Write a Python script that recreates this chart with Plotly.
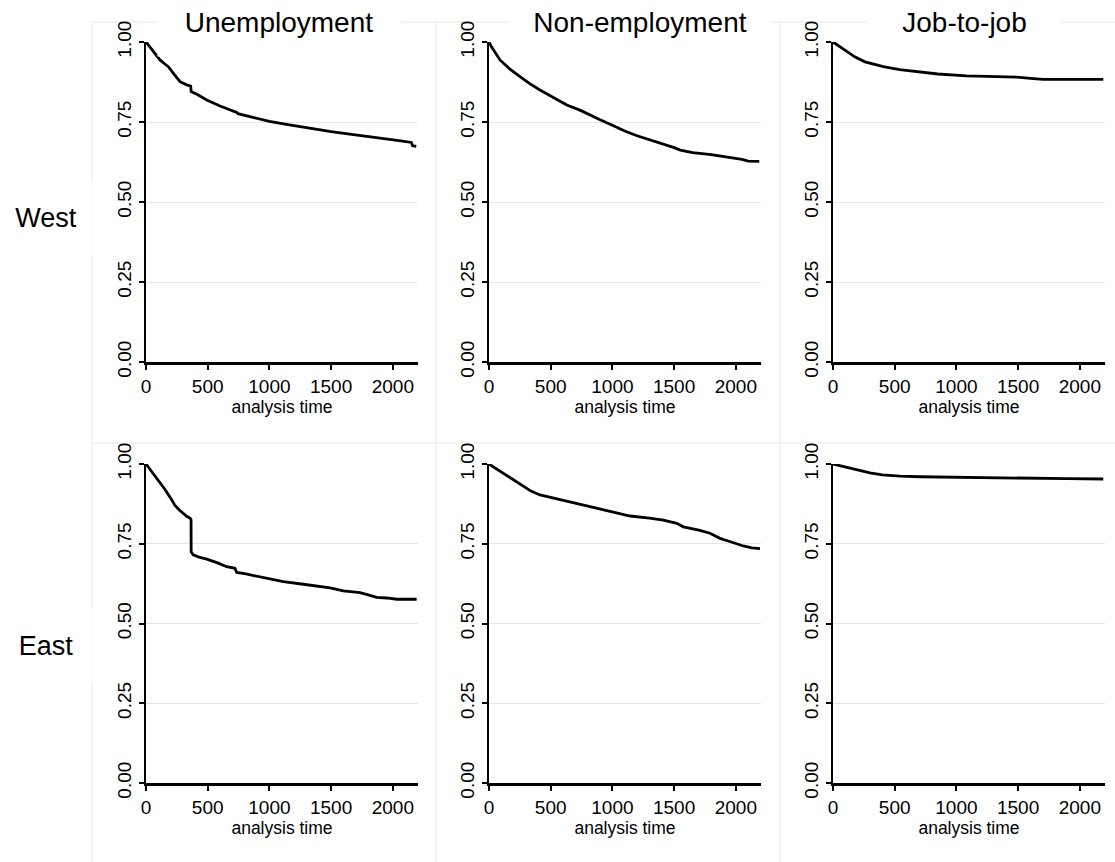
import plotly.graph_objects as go

# ---------------- data ----------------
col_titles = ["Unemployment", "Non-employment", "Job-to-job"]
row_titles = ["West", "East"]
x_ticks = [0, 500, 1000, 1500, 2000]
y_ticks = [0, 0.25, 0.5, 0.75, 1.0]
y_tick_text = ["0.00", "0.25", "0.50", "0.75", "1.00"]
x_title = "analysis time"

uw_t = [0, 30, 60, 113, 150, 181, 230, 276, 330, 362, 366, 420, 492, 600, 735, 745, 850, 1000,
        1150, 1300, 1400, 1500, 1650, 1800, 1950, 2050, 2150, 2160, 2190]
uw_s = [1.0, 0.985, 0.97, 0.944, 0.932, 0.923, 0.898, 0.876, 0.866, 0.8625, 0.845, 0.835, 0.819,
        0.80, 0.78, 0.776, 0.766, 0.752, 0.742, 0.732, 0.725, 0.72, 0.712, 0.705, 0.698, 0.692,
        0.686, 0.676, 0.674]

nw_t = [0, 20, 89, 170, 251, 330, 413, 520, 630, 737, 800, 900, 1000, 1100, 1200, 1300, 1400,
        1500, 1550, 1650, 1800, 1950, 2050, 2100, 2190]
nw_s = [1.0, 0.985, 0.944, 0.915, 0.892, 0.87, 0.85, 0.826, 0.803, 0.787, 0.775, 0.757, 0.74,
        0.722, 0.707, 0.695, 0.683, 0.67, 0.662, 0.654, 0.648, 0.64, 0.633, 0.628, 0.627]

jw_t = [0, 40, 111, 180, 259, 330, 408, 540, 678, 850, 1083, 1300, 1489, 1600, 1702, 1900, 2190]
jw_s = [1.0, 0.99, 0.97, 0.953, 0.938, 0.93, 0.923, 0.914, 0.907, 0.9, 0.894, 0.892, 0.89,
        0.886, 0.883, 0.883, 0.883]

ue_t = [0, 50, 100, 154, 200, 235, 270, 300, 330, 358, 365, 366, 383, 430, 492, 580, 654, 721,
        735, 800, 951, 1113, 1275, 1400, 1491, 1599, 1734, 1800, 1869, 1950, 2031, 2193]
ue_s = [1.0, 0.975, 0.95, 0.92, 0.893, 0.87, 0.856, 0.846, 0.836, 0.83, 0.825, 0.725, 0.715,
        0.708, 0.702, 0.69, 0.678, 0.673, 0.66, 0.656, 0.645, 0.631, 0.623, 0.617, 0.612, 0.602,
        0.597, 0.59, 0.582, 0.58, 0.576, 0.576]

ne_t = [0, 116, 200, 278, 340, 413, 500, 602, 764, 926, 1143, 1300, 1413, 1521, 1575, 1700,
        1791, 1830, 1872, 1950, 2061, 2130, 2196]
ne_s = [1.0, 0.971, 0.95, 0.929, 0.915, 0.903, 0.895, 0.887, 0.871, 0.856, 0.837, 0.83, 0.824,
        0.814, 0.803, 0.793, 0.783, 0.775, 0.767, 0.757, 0.743, 0.737, 0.735]

je_t = [0, 50, 100, 200, 300, 400, 543, 700, 1000, 1300, 1600, 1900, 2190]
je_s = [1.0, 0.995, 0.99, 0.98, 0.972, 0.966, 0.962, 0.96, 0.958, 0.956, 0.955, 0.954, 0.953]

panels = [(uw_t, uw_s), (nw_t, nw_s), (jw_t, jw_s),
          (ue_t, ue_s), (ne_t, ne_s), (je_t, je_s)]

# ---------------- layout geometry (pixels) ----------------
W, H = 1115, 862
FONT = "Liberation Sans, Arial, Helvetica, sans-serif"
col_x = [(146, 418), (489, 761), (833, 1105)]
row_y = [(42, 362), (464, 783)]
X_MAX = 2204


def px(x):
    return x / W


def py(y):
    return 1 - y / H


fig = go.Figure()
layout = dict(
    width=W, height=H,
    margin=dict(l=0, r=0, t=0, b=0, autoexpand=False),
    paper_bgcolor="white", plot_bgcolor="white",
    showlegend=False,
    font=dict(family=FONT, color="black"),
)

for i, (t, s) in enumerate(panels):
    r, c = divmod(i, 3)
    k = "" if i == 0 else str(i + 1)
    fig.add_trace(go.Scatter(x=t, y=s, mode="lines", xaxis="x" + k, yaxis="y" + k,
                             line=dict(color="black", width=2.8), hoverinfo="skip"))
    x0, x1 = col_x[c]
    y0, y1 = row_y[r]
    layout["xaxis" + k] = dict(
        domain=[px(x0), px(x1)], anchor="y" + k, range=[0, X_MAX],
        showline=True, linecolor="black", linewidth=3,
        ticks="outside", ticklen=5, tickwidth=1.5, tickcolor="black",
        tickvals=x_ticks, tickfont=dict(size=19, family=FONT),
        showgrid=False, zeroline=False, automargin=False,
        title=dict(text=x_title, font=dict(size=17.5, family=FONT), standoff=3),
    )
    layout["yaxis" + k] = dict(
        domain=[py(y1), py(y0)], anchor="x" + k, range=[0, 1.0],
        showline=True, linecolor="black", linewidth=2,
        ticks="outside", ticklen=5, tickwidth=1.5, tickcolor="black",
        tickvals=y_ticks, ticktext=y_tick_text, tickangle=-90,
        tickfont=dict(size=19, family=FONT), automargin=False,
        showgrid=True, gridcolor="#e6e6e6", gridwidth=1, zeroline=False,
    )

# faint frame lines of the combined subgraphs
frame = "#e8e8e8"
shapes = []
for xv in (92, 436, 780):
    shapes.append(dict(type="line", xref="paper", yref="paper", x0=px(xv), x1=px(xv),
                       y0=py(22), y1=py(H + 5), line=dict(color=frame, width=1), layer="below"))
for yv in (22, 443):
    shapes.append(dict(type="line", xref="paper", yref="paper", x0=px(92), x1=px(W + 5),
                       y0=py(yv), y1=py(yv), line=dict(color=frame, width=1), layer="below"))
layout["shapes"] = shapes

annotations = []
title_pos = [(279, 242), (640, 262), (965, 193)]
for txt, (cx, bw) in zip(col_titles, title_pos):
    annotations.append(dict(text=txt, xref="paper", yref="paper", x=px(cx), y=py(22),
                            xanchor="center", yanchor="middle", showarrow=False,
                            font=dict(size=28, family=FONT, color="black"),
                            bgcolor="white", width=bw, height=68, borderpad=0))
for txt, cy in zip(row_titles, (217, 645)):
    annotations.append(dict(text=txt, xref="paper", yref="paper", x=px(46), y=py(cy),
                            xanchor="center", yanchor="middle", showarrow=False,
                            font=dict(size=27, family=FONT, color="black"),
                            bgcolor="white", width=92, height=73, borderpad=0))
layout["annotations"] = annotations

fig.update_layout(**layout)
fig.write_html("out.html", config={"displayModeBar": False},
               post_script="document.body.style.margin='0';document.body.style.overflow='hidden';")
